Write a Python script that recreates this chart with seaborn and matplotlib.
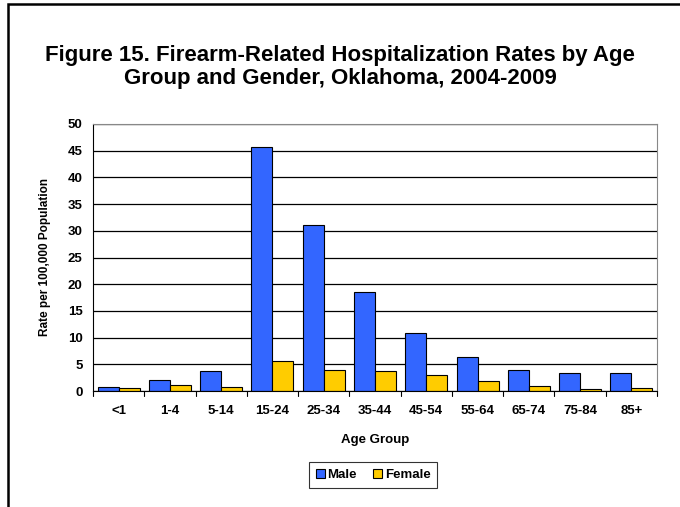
import pandas as pd
import matplotlib.pyplot as plt
import seaborn as sns
from matplotlib.patches import Rectangle

# values
age_groups = ['<1', '1-4', '5-14', '15-24', '25-34', '35-44', '45-54', '55-64', '65-74', '75-84', '85+']
male = [0.7, 2.0, 3.7, 45.6, 31.0, 18.5, 10.9, 6.3, 4.0, 3.3, 3.4]
female = [0.6, 1.1, 0.8, 5.6, 3.9, 3.75, 3.0, 1.8, 0.9, 0.3, 0.5]

df = pd.DataFrame({
    'age': age_groups * 2,
    'rate': male + female,
    'gender': ['Male'] * len(male) + ['Female'] * len(female),
})

sns.set_style('white')
plt.rcParams['font.family'] = ['Liberation Sans', 'DejaVu Sans']
plt.rcParams['text.color'] = 'black'
plt.rcParams['axes.labelcolor'] = 'black'
plt.rcParams['xtick.color'] = 'black'
plt.rcParams['ytick.color'] = 'black'

fig = plt.figure(figsize=(6.8, 5.07), dpi=100)
ax = fig.add_axes([93 / 680, 1 - 391 / 507, (657 - 93) / 680, (391 - 124) / 507])

sns.barplot(data=df, x='age', y='rate', hue='gender', order=age_groups,
            palette={'Male': '#3366FF', 'Female': '#FFCC00'}, width=0.82,
            edgecolor='black', linewidth=0.8, saturation=1, ax=ax)

ax.set_ylim(0, 50)
ax.set_yticks(range(0, 51, 5))
ax.yaxis.grid(True, color='black', linewidth=0.9)
ax.set_axisbelow(True)
for s in ['top', 'right']:
    ax.spines[s].set_color('#888888')
for s in ['left', 'bottom']:
    ax.spines[s].set_color('black')
ax.tick_params(axis='both', length=4, width=0.8, labelsize=9.5, direction='out')
ax.tick_params(axis='x', length=0, pad=10)
for lbl in ax.get_xticklabels() + ax.get_yticklabels():
    lbl.set_fontweight('bold')
# small separators between groups on x axis
for i in range(len(age_groups) + 1):
    ax.plot([i - 0.5, i - 0.5], [0, -0.9], color='black', lw=0.8, clip_on=False)
ax.set_xlim(-0.5, len(age_groups) - 0.5)

ax.set_xlabel('Age Group', fontsize=9.5, fontweight='bold', labelpad=12)
ax.set_ylabel('Rate per 100,000 Population', fontsize=8.5, fontweight='bold', labelpad=12)

fig.text(0.5, 1 - 67 / 507, 'Figure 15. Firearm-Related Hospitalization Rates by Age\nGroup and Gender, Oklahoma, 2004-2009',
         ha='center', va='center', fontsize=16, fontweight='bold', linespacing=1.1)

ax.get_legend().remove()
handles, labels = ax.get_legend_handles_labels()
leg = fig.legend(handles[:2], labels[:2], loc='center', bbox_to_anchor=(373 / 680, 1 - 475 / 507),
                 ncol=2, frameon=True, fancybox=False, edgecolor='black', fontsize=9.5,
                 handlelength=0.7, handleheight=0.7, handletextpad=0.2, columnspacing=1.2,
                 borderpad=0.5, borderaxespad=0)
leg.get_frame().set_linewidth(0.8)
for t in leg.get_texts():
    t.set_fontweight('bold')

# outer frame of the chart
fig.patches.append(Rectangle((8 / 680, -0.1), 1.0, 1.1 - 4 / 507, transform=fig.transFigure,
                             fill=False, edgecolor='black', linewidth=1.8))

fig.savefig('out.png', dpi=100)
